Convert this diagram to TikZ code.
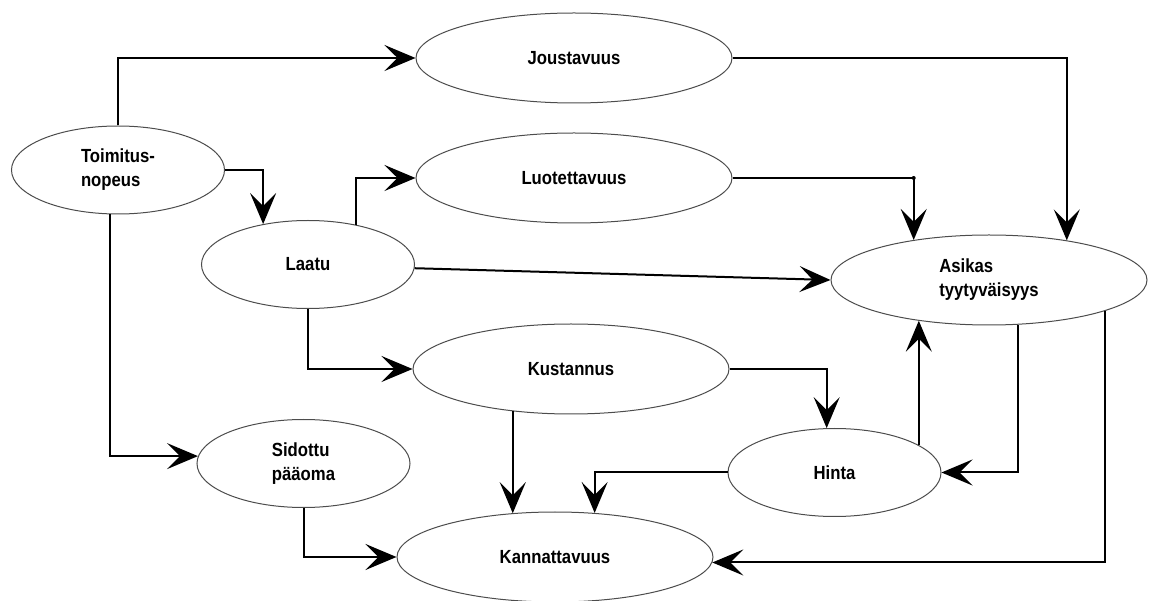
\documentclass[tikz,border=0pt]{standalone}
\usepackage{fontspec}
\usepackage{tikz}
\usetikzlibrary{shapes.geometric,arrows.meta}
\newfontfamily\nodefont{Liberation Sans}[FakeStretch=0.88]

\begin{document}
\begin{tikzpicture}[x=1pt,y=-1pt,
        font=\nodefont\bfseries\fontsize{19}{24}\selectfont,
        every node/.style={draw=black!70,line width=1pt,ellipse,inner sep=0pt,align=left},
        big/.style={minimum width=316pt,minimum height=90pt},
        small/.style={minimum width=213pt,minimum height=88pt},
        link/.style={line width=2pt,-{Stealth[length=31pt,width=26pt,inset=13pt]}}]

    \useasboundingbox (0,0) rectangle (1152,601);

    \node[small] (toim)  at (118,170)   {Toimitus-\\nopeus};
    \node[big]   (jous)  at (574,58)    {Joustavuus};
    \node[big]   (luot)  at (574,178)   {Luotettavuus};
    \node[small] (laatu) at (308,264.5) {Laatu};
    \node[big]   (asik)  at (989,280)   {Asikas\\tyytyväisyys};
    \node[big]   (kust)  at (571,369)   {Kustannus};
    \node[small] (sid)   at (303.5,463.5) {Sidottu\\pääoma};
    \node[small] (hinta) at (834.5,472.5) {Hinta};
    \node[big]   (kann)  at (555,557)   {Kannattavuus};

    % Toimitusnopeus
    \draw[link] (toim.north) |- (jous.west);
    \draw[link] (toim.east) -| (laatu.138);
    \draw[link] (toim.260) |- (sid.176);

    % Laatu
    \draw[link] (laatu.40) |- (luot.west);
    \draw[link] (laatu.-2) -- (asik.west);
    \draw[link] (laatu.south) |- (kust.west);

    % asiakastyytyvaisyys
    \draw[link] (jous.east) -| (asik.27);
    \draw[link] (luot.east) -| (asik.152);
    \fill (luot.east -| asik.152) circle (2pt);
    \draw[link] (asik.-57) |- (hinta.east);
    \draw[link] (asik.-15) |- (kann.-2);

    % kustannus ja hinta
    \draw[link] (kust.east) -| (hinta.100);
    \draw[link] (kust.216) -- (kust.216 |- kann.135);
    \draw[link] (hinta.18) -- (hinta.18 |- asik.210);
    \draw[link] (hinta.west) -| (kann.48);
    \draw[link] (sid.south) |- (kann.west);
\end{tikzpicture}
\end{document}
